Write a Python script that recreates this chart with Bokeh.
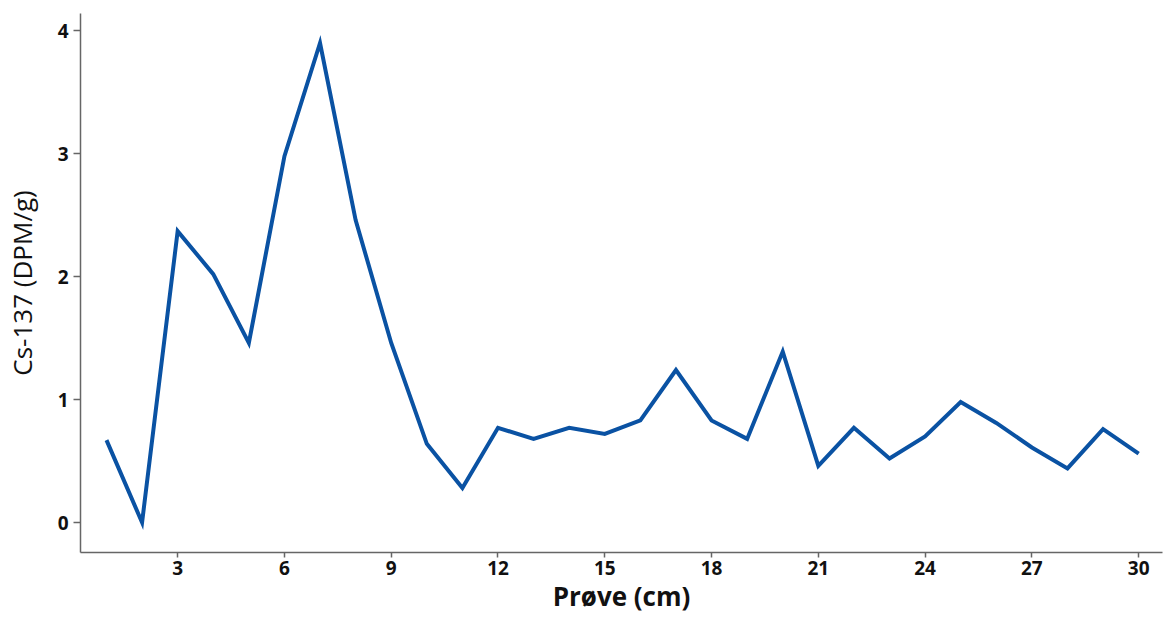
from bokeh.plotting import figure
from bokeh.models import Range1d, FixedTicker
from bokeh.embed import file_html
from bokeh.resources import INLINE

depth = list(range(1, 31))
cs137 = [0.67, 0.00, 2.37, 2.02, 1.46, 2.98, 3.90, 2.46, 1.46, 0.64,
         0.28, 0.77, 0.68, 0.77, 0.72, 0.83, 1.24, 0.83, 0.68, 1.39,
         0.46, 0.77, 0.52, 0.70, 0.98, 0.81, 0.61, 0.44, 0.76, 0.56]
x_ticks = [3, 6, 9, 12, 15, 18, 21, 24, 27, 30]
y_ticks = [0, 1, 2, 3, 4]

p = figure(width=1164, height=617, output_backend="svg", toolbar_location=None,
           x_range=Range1d(0.27, 30.67), y_range=Range1d(-0.244, 4.14),
           min_border_left=80, min_border_right=2, min_border_top=13, min_border_bottom=65)
p.outline_line_color = None
p.grid.visible = False
p.background_fill_color = "white"

p.line(depth, cs137, line_color="#0a52a3", line_width=4, line_join="miter")

font = "Open Sans"
p.xaxis.ticker = FixedTicker(ticks=x_ticks)
p.yaxis.ticker = FixedTicker(ticks=y_ticks)
for ax in (p.xaxis[0], p.yaxis[0]):
    ax.axis_line_color = "#666666"
    ax.axis_line_width = 1.5
    ax.major_tick_line_color = "#666666"
    ax.major_tick_line_width = 1.5
    ax.major_tick_in = 0
    ax.minor_tick_out = 0
    ax.minor_tick_in = 0
    ax.major_label_text_font = font
    ax.major_label_text_font_size = "19px"
    ax.major_label_text_font_style = "bold"
    ax.major_label_text_color = "#111111"
    ax.axis_label_text_font = font
    ax.axis_label_text_color = "#111111"

p.xaxis.axis_label = "Prøve (cm)"
p.xaxis.axis_label_text_font_size = "26px"
p.xaxis.axis_label_text_font_style = "bold"
p.xaxis.axis_label_standoff = 0
p.xaxis.major_label_standoff = 3
p.xaxis.major_tick_out = 5

p.yaxis.axis_label = "Cs-137 (DPM/g)"
p.yaxis.axis_label_text_font_size = "26px"
p.yaxis.axis_label_text_font_style = "normal"
p.yaxis.axis_label_standoff = 15
p.yaxis.major_label_standoff = 5
p.yaxis.major_tick_out = 7

open("out.html", "w").write(file_html(p, INLINE))
